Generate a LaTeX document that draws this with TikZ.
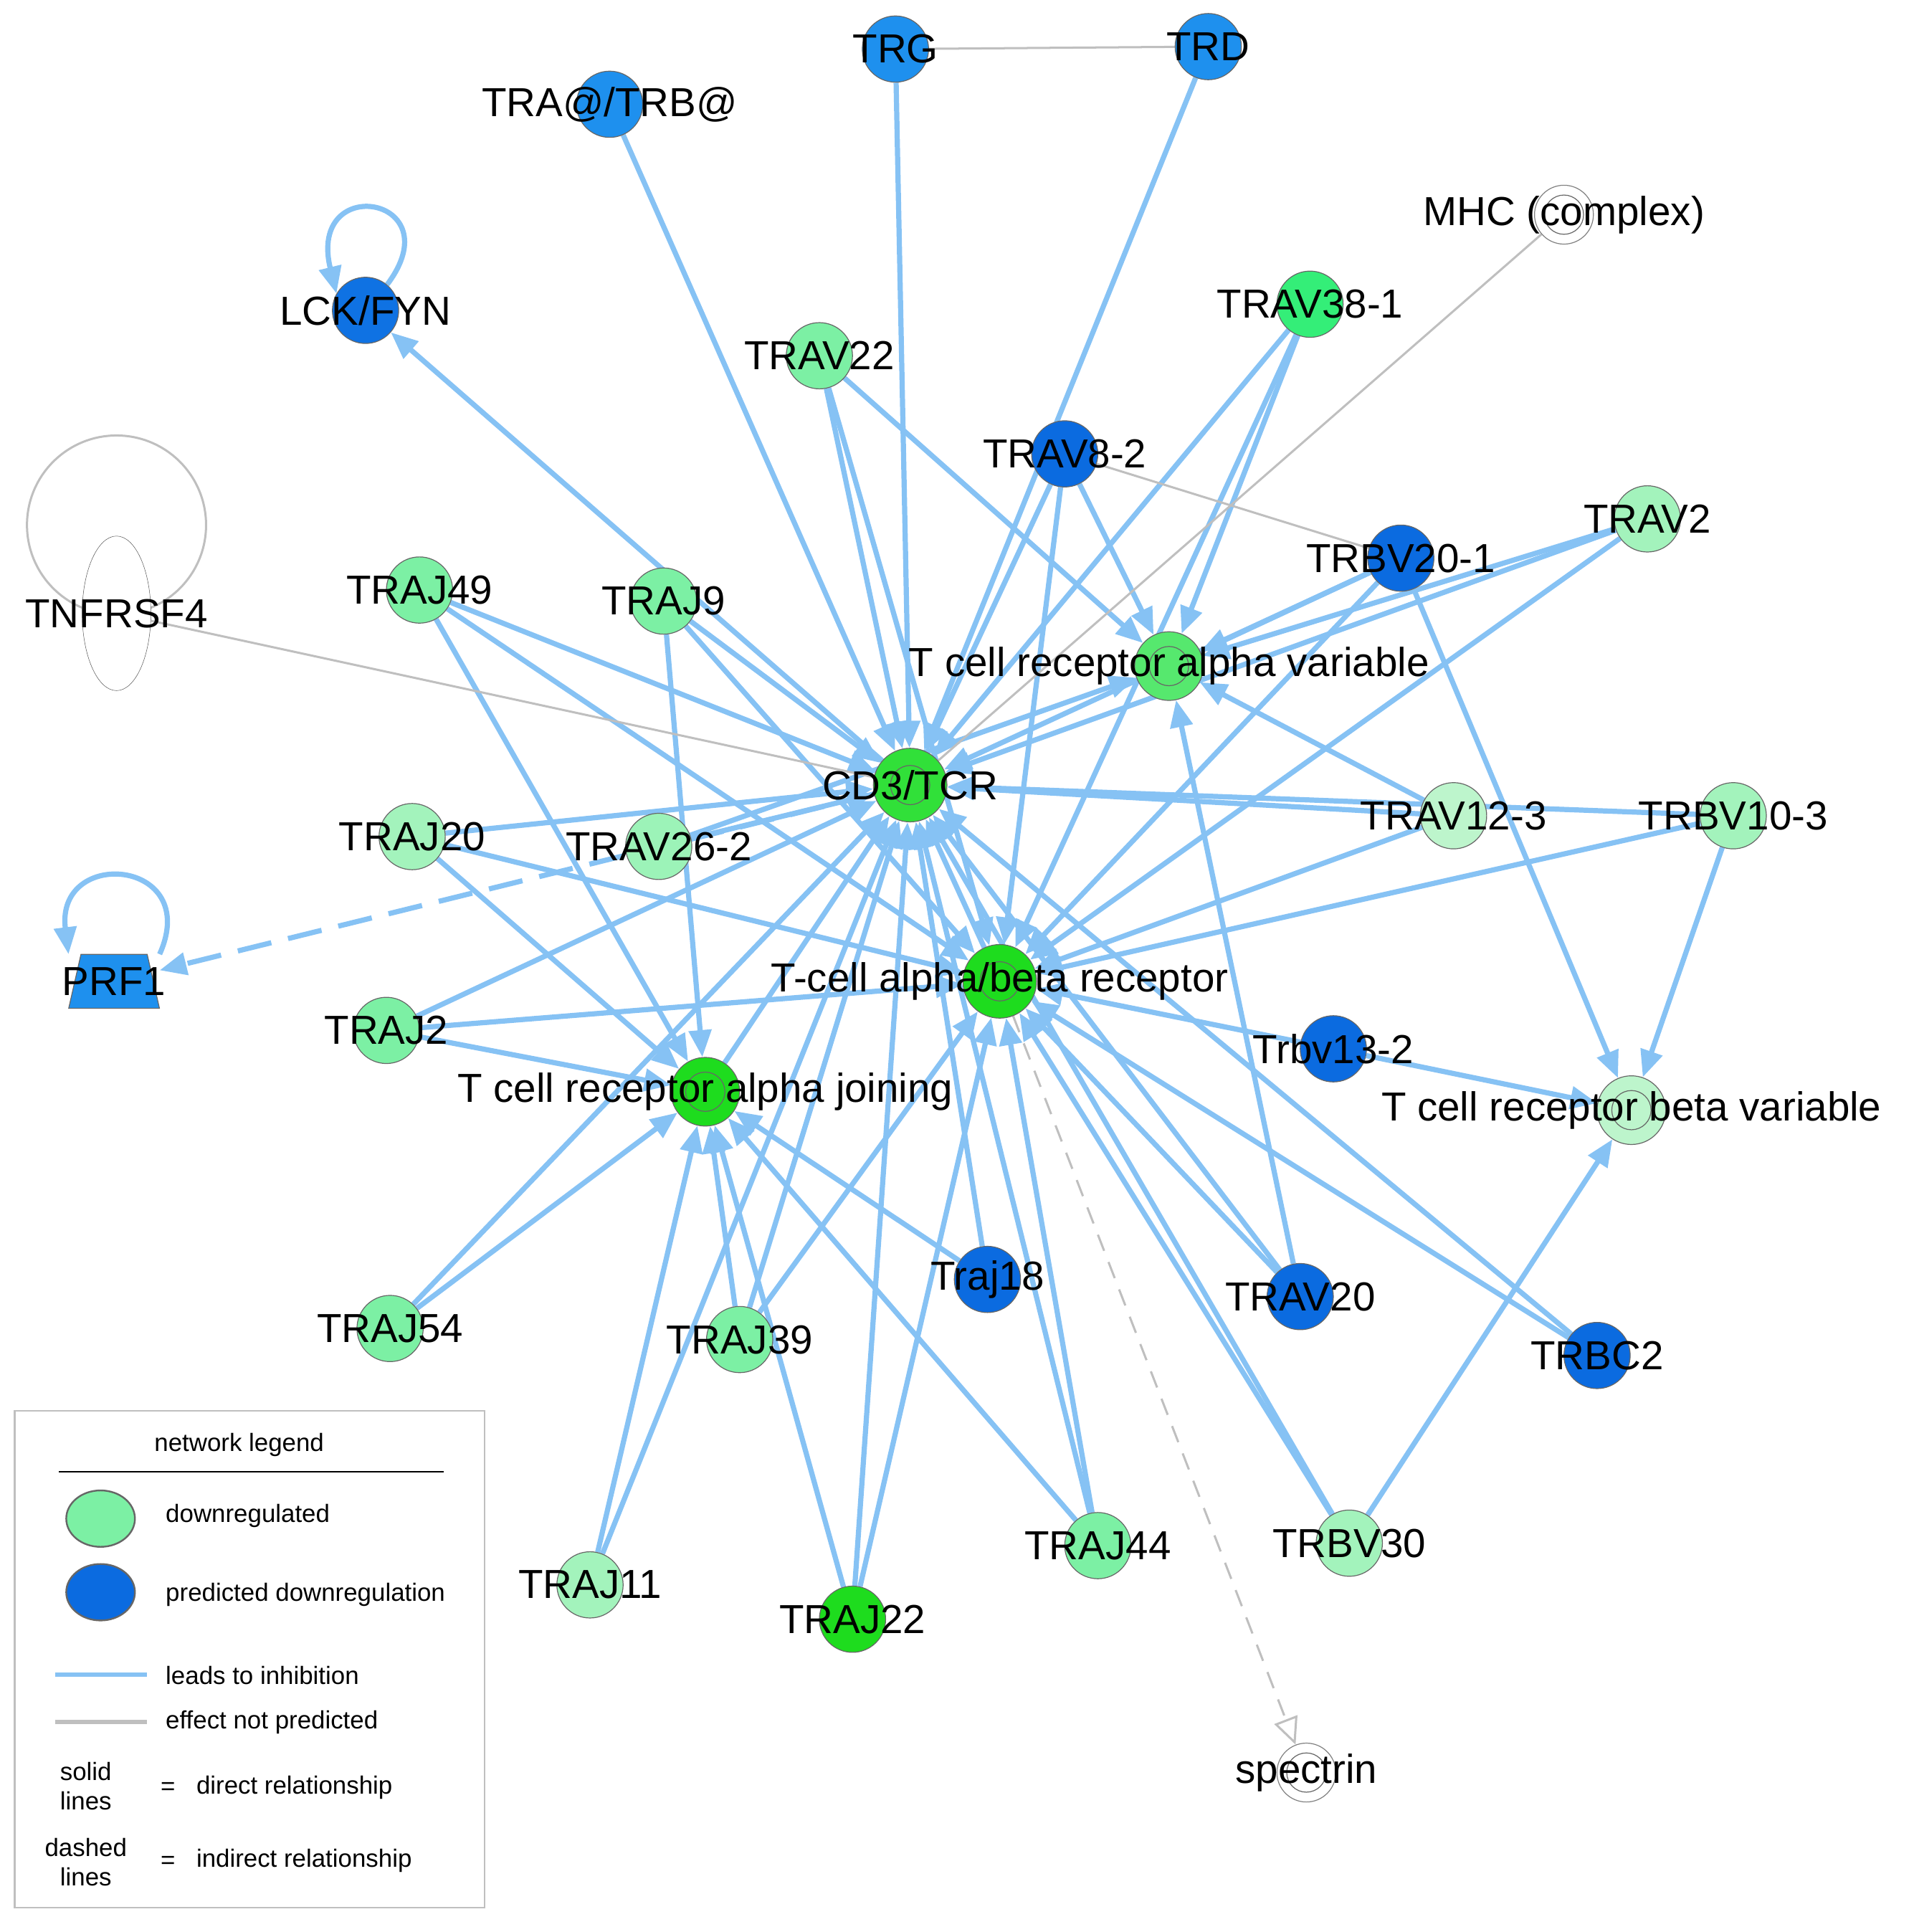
\documentclass[tikz,border=0pt]{standalone}
\usepackage{fontspec}
\setmainfont{Liberation Sans}
\usetikzlibrary{arrows.meta,shapes.geometric,backgrounds}
\definecolor{eblue}{HTML}{86C2F4}
\definecolor{gA}{HTML}{7CF0A4}
\definecolor{gP}{HTML}{BDF5CC}
\definecolor{gB}{HTML}{34EE78}
\definecolor{gC}{HTML}{1EDC1E}
\definecolor{bL}{HTML}{1E90EE}
\definecolor{bD}{HTML}{0B6BE0}
\begin{document}
\begin{tikzpicture}[x=0.05cm,y=-0.05cm,
 nd/.style={circle,draw=gray!80!black,line width=1pt,minimum size=2.7cm,inner sep=0pt},
 hub/.style={nd,minimum size=2.8cm},
 lab/.style={font=\fontsize{47}{52}\selectfont,text=black,inner sep=0pt},
 inh/.style={draw=eblue,line width=6pt,-{Triangle[length=1.1cm,width=0.9cm]}},
 gr/.style={draw=gray!50,line width=2.5pt},
 leg/.style={font=\fontsize{29}{34}\selectfont,inner sep=0pt}]
\useasboundingbox (0,0) rectangle (1560,1575);
% nodes
\node[nd,fill=bL] (trg) at (730,40) {};
\node[nd,fill=bL] (trd) at (985,38) {};
\node[nd,fill=bL] (tra) at (497,85) {};
\node[nd,fill=bD!80!bL] (lck) at (298,253) {};
\node[nd,draw=gray,fill=white,minimum size=2.4cm] (mhc) at (1275,175) {};
\node[nd,fill=gB] (v381) at (1068,248) {};
\node[nd,fill=gA] (v22) at (668,290) {};
\node[nd,fill=bD] (v82) at (868,370) {};
\node[nd,fill=gP!60!gA] (v2) at (1343,423) {};
\node[nd,fill=bD] (b201) at (1142,455) {};
\node[ellipse,draw=black!70,fill=white,minimum width=2.8cm,minimum height=6.3cm] (tnf) at (95,500) {};
\node[nd,fill=gA] (j49) at (342,481) {};
\node[nd,fill=gA] (j9) at (541,490) {};
\node[hub,fill=gA!60!gC] (av) at (953,543) {};
\node[hub,fill=gC!80!gA,minimum size=3cm] (cd3) at (742,640) {};
\node[nd,fill=gP!60!gA] (j20) at (336,682) {};
\node[nd,fill=gP!50!gA] (v262) at (537,690) {};
\node[nd,fill=gP] (v123) at (1185,665) {};
\node[nd,fill=gP!60!gA] (b103) at (1413,665) {};
\node[rectangle,minimum width=3.7cm,minimum height=2.2cm,inner sep=0pt] (prf) at (93,800) {};
\fill[bL,draw=gray!80!black,line width=1pt] (56,822) -- (130,822) -- (120,778) -- (66,778) -- cycle;
\node[hub,fill=gC,minimum size=3cm] (ab) at (815,800) {};
\node[nd,fill=gA] (j2) at (315,840) {};
\node[nd,fill=bD] (b132) at (1087,855) {};
\node[hub,fill=gC] (aj) at (575,890) {};
\node[hub,fill=gP] (bv) at (1330,905) {};
\node[nd,fill=bD] (j18) at (805,1043) {};
\node[nd,fill=bD] (v20) at (1060,1057) {};
\node[nd,fill=bD] (bc2) at (1302,1105) {};
\node[nd,fill=gA] (j54) at (318,1083) {};
\node[nd,fill=gA] (j39) at (603,1092) {};
\node[nd,fill=gA] (j44) at (895,1260) {};
\node[nd,fill=gP!60!gA] (b30) at (1100,1258) {};
\node[nd,fill=gP!60!gA] (j11) at (481,1292) {};
\node[nd,fill=gC] (j22) at (695,1320) {};
\node[nd,draw=gray,fill=white,minimum size=2.4cm] (spec) at (1065,1445) {};
\foreach \n in {mhc,av,cd3,ab,aj,bv,spec} \draw[gray!80!black,line width=1pt] (\n) circle (0.8cm);
% edges
\begin{scope}[on background layer]
\foreach \a/\b in {tra/cd3,trg/cd3,trd/cd3,v22/cd3,v22/av,v22/ab,v381/av,v381/cd3,v381/ab,v82/cd3,v82/av,v82/ab,
 v2/av,v2/cd3,v2/ab,b201/bv,b201/cd3,b201/ab,b201/av,j49/cd3,j49/aj,j49/ab,j9/cd3,j9/aj,j9/ab,
 j20/cd3,j20/aj,j20/ab,v262/cd3,v262/av,v123/cd3,v123/av,v123/ab,b103/cd3,b103/bv,b103/ab,
 j2/aj,j2/cd3,j2/ab,b132/bv,b132/ab,j18/cd3,j18/aj,v20/av,v20/cd3,v20/ab,bc2/cd3,bc2/ab,
 j54/aj,j54/cd3,j39/aj,j39/cd3,j39/ab,j44/cd3,j44/ab,j44/aj,b30/bv,b30/cd3,b30/ab,
 j11/aj,j11/cd3,j22/aj,j22/cd3,j22/ab,aj/cd3,ab/cd3,cd3/lck}
 \draw[inh] (\a) -- (\b);
\draw[gr] (trg) -- (trd);
\draw[gr] (mhc) -- (cd3);
\draw[gr] (tnf) -- (cd3);
\draw[gr] (v82) -- (b201);
\draw[gr,dash pattern=on 20pt off 14pt,-{Triangle[open,length=1.1cm,width=1cm,fill=white]}] (ab) -- (spec);
\draw[draw=eblue,line width=6pt,dash pattern=on 40pt off 20pt,-{Triangle[length=1.1cm,width=0.9cm]}] (cd3) -- (prf);
\draw[gray!50,line width=2.5pt] (95,428) circle (3.65cm);
\draw[inh] (lck.50) .. controls (370,160) and (250,140) .. (lck.150);
\draw[inh] (prf.north east) .. controls (165,700) and (45,690) .. (prf.north west);
\end{scope}
% labels
\foreach \n/\t in {trg/TRG,trd/TRD,tra/{TRA@/TRB@},lck/{LCK/FYN},mhc/MHC (complex),v381/TRAV38-1,v22/TRAV22,v82/TRAV8-2,
 v2/TRAV2,b201/TRBV20-1,tnf/TNFRSF4,j49/TRAJ49,j9/TRAJ9,av/T cell receptor alpha variable,cd3/{CD3/TCR},
 j20/TRAJ20,v262/TRAV26-2,v123/TRAV12-3,b103/TRBV10-3,prf/PRF1,ab/{T-cell alpha/beta receptor},j2/TRAJ2,
 b132/Trbv13-2,aj/T cell receptor alpha joining,bv/T cell receptor beta variable,j18/Traj18,v20/TRAV20,
 bc2/TRBC2,j54/TRAJ54,j39/TRAJ39,j44/TRAJ44,b30/TRBV30,j11/TRAJ11,j22/TRAJ22,spec/spectrin}
 \node[lab] at (\n) {\t};
% legend
\draw[gray!50,line width=2pt,fill=white] (12,1150) rectangle (395,1555);
\node[leg] (lt) at (195,1178) {network legend};
\draw[black,line width=1.5pt] (48,1200) -- (362,1200);
\node[ellipse,draw=gray!80!black,line width=2pt,fill=gA,minimum width=2.8cm,minimum height=2.3cm] (l1) at (82,1238) {};
\node[leg,anchor=west] (t1) at (135,1236) {downregulated};
\node[ellipse,draw=gray!80!black,line width=2pt,fill=bD,minimum width=2.8cm,minimum height=2.3cm] (l2) at (82,1298) {};
\node[leg,anchor=west] (t2) at (135,1300) {predicted downregulation};
\coordinate (a1) at (45,1365); \coordinate (a2) at (120,1365);
\draw[eblue,line width=5pt] (a1) -- (a2);
\node[leg,anchor=west] (t3) at (135,1366) {leads to inhibition};
\coordinate (b1) at (45,1404); \coordinate (b2) at (120,1404);
\draw[gray!50,line width=5pt] (b1) -- (b2);
\node[leg,anchor=west] (t4) at (135,1404) {effect not predicted};
\node[leg,align=center] (t5) at (70,1456) {solid\\lines};
\node[leg] (e1) at (137,1458) {=};
\node[leg,anchor=west] (t6) at (160,1457) {direct relationship};
\node[leg,align=center] (t7) at (70,1518) {dashed\\lines};
\node[leg] (e2) at (137,1518) {=};
\node[leg,anchor=west] (t8) at (160,1517) {indirect relationship};
\end{tikzpicture}
\end{document}
